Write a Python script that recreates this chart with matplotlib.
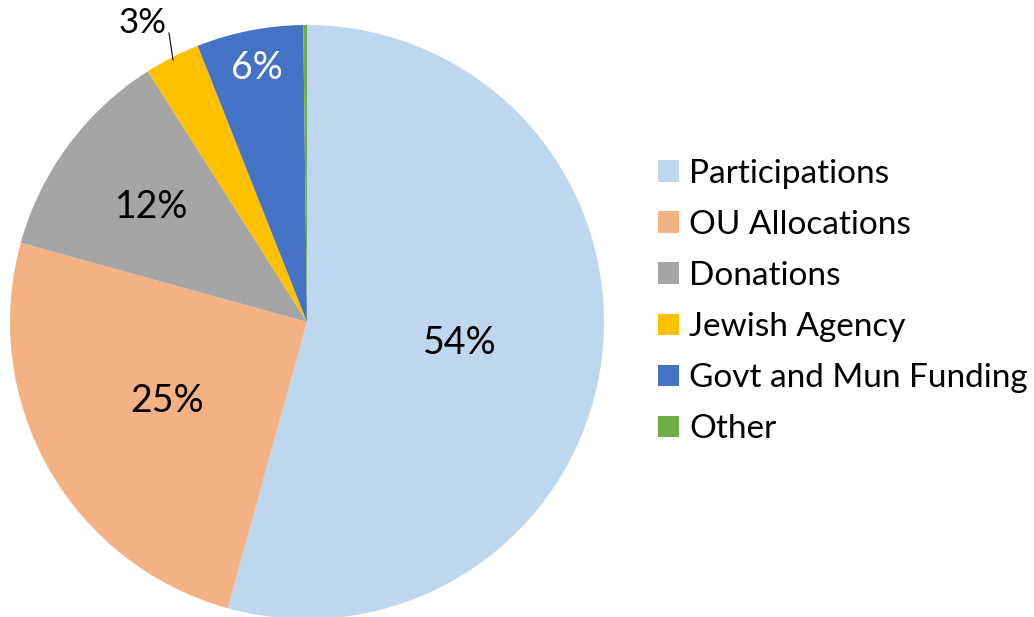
import matplotlib
matplotlib.use("Agg")
import matplotlib.pyplot as plt
import numpy as np
from matplotlib.patches import Patch

categories = ["Participations", "OU Allocations", "Donations", "Jewish Agency",
              "Govt and Mun Funding", "Other"]
values = [54.3, 25.0, 11.7, 3.0, 5.8, 0.2]
labels = ["54%", "25%", "12%", "3%", "6%", ""]
colors = ["#BDD7EE", "#F4B183", "#A5A5A5", "#FFC000", "#4472C4", "#70AD47"]

plt.rcParams['font.family'] = ['Lato', 'DejaVu Sans']

W, H = 1034, 617
fig = plt.figure(figsize=(W / 100, H / 100), dpi=100)
cx, cy, R = 307, 322, 297
ax = fig.add_axes([(cx - R) / W, (H - cy - R) / H, 2 * R / W, 2 * R / H])

wedges, _ = ax.pie(values, colors=colors, startangle=90, counterclock=False,
                   radius=1, wedgeprops=dict(linewidth=0))
ax.set_xlim(-1, 1)
ax.set_ylim(-1, 1)
ax.set_aspect('equal')
ax.axis('off')

# label radii (fraction of radius) per slice
label_r = [0.52, 0.54, 0.65, 1.0, 0.87, 0.0]
label_col = ["black", "black", "black", "black", "white", "black"]
for w, lab, r, c in zip(wedges, labels, label_r, label_col):
    if not lab:
        continue
    ang = np.deg2rad((w.theta1 + w.theta2) / 2)
    if lab == "3%":
        tx, ty = (143 - cx) / R, (cy - 23) / R
        ax.plot([(173 - cx) / R, (169 - cx) / R], [(cy - 60) / R, (cy - 33) / R],
                color="black", lw=0.8, clip_on=False)
        ax.text(tx, ty, lab, ha='center', va='center', fontsize=25, color=c,
                clip_on=False)
    else:
        ax.text(np.cos(ang) * r, np.sin(ang) * r, lab, ha='center', va='center',
                fontsize=27, color=c)

handles = [Patch(facecolor=col, edgecolor='none') for col in colors]
fig.legend(handles, categories, loc='center left',
           bbox_to_anchor=(658 / W, 1 - 301.5 / H), frameon=False,
           fontsize=24, handlelength=0.62, handleheight=0.62,
           handletextpad=0.32, labelspacing=0.635, borderpad=0, borderaxespad=0)

fig.savefig("out.png", dpi=100)
